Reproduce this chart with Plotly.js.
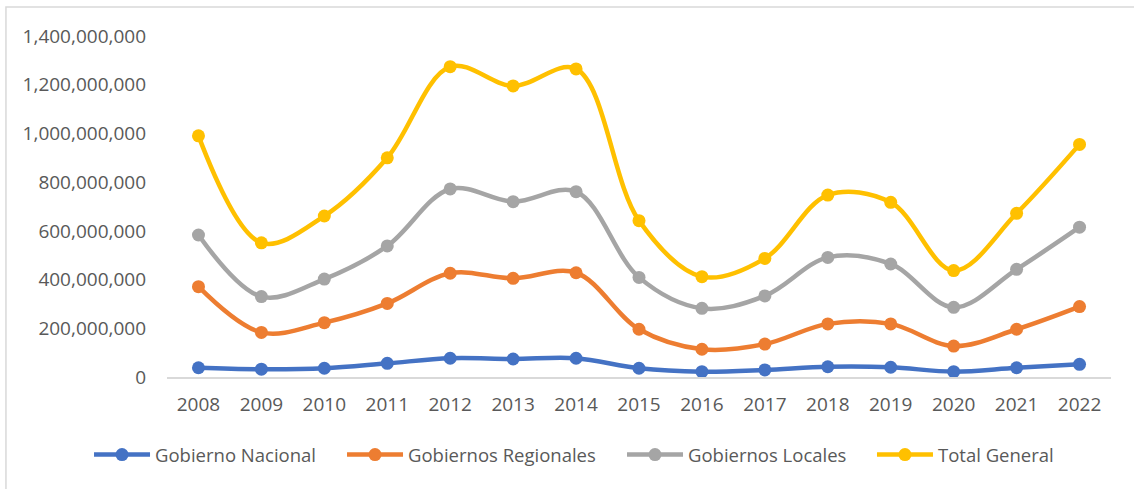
<!DOCTYPE html>
<html>
<head>
<meta charset="utf-8">
<script src="https://cdn.plot.ly/plotly-3.0.1.min.js"></script>
<style>
  html, body { margin: 0; padding: 0; background: #ffffff; }
  #chart { width: 1134px; height: 489px; }
</style>
</head>
<body>
<div id="chart"></div>
<script>
const years = ["2008","2009","2010","2011","2012","2013","2014","2015","2016","2017","2018","2019","2020","2021","2022"];
const gobiernoNacional    = [38e6, 32e6, 36e6, 56e6, 77e6, 74e6, 77e6, 36e6, 22e6, 29e6, 42e6, 40e6, 22e6, 38e6, 52e6];
const gobiernosRegionales = [371e6, 183e6, 223e6, 302e6, 426e6, 405e6, 428e6, 196e6, 114e6, 135e6, 218e6, 218e6, 127e6, 196e6, 289e6];
const gobiernosLocales    = [583e6, 330e6, 402e6, 538e6, 772e6, 720e6, 761e6, 409e6, 282e6, 333e6, 491e6, 464e6, 286e6, 442e6, 615e6];
const totalGeneral        = [990e6, 551e6, 661e6, 900e6, 1274e6, 1195e6, 1265e6, 642e6, 412e6, 487e6, 747e6, 717e6, 437e6, 672e6, 955e6];

const seriesNames  = ["Gobierno Nacional", "Gobiernos Regionales", "Gobiernos Locales", "Total General"];
const seriesValues = [gobiernoNacional, gobiernosRegionales, gobiernosLocales, totalGeneral];
const seriesColors = ["#4472C4", "#ED7D31", "#A5A5A5", "#FFC000"];
const legendIds    = ["legend", "legend2", "legend3", "legend4"];
const legendX      = [-0.0826, 0.1854, 0.4820, 0.7468];

const FONT = "Open Sans, Liberation Sans, Arial, sans-serif";
const TEXT = "#595959";

const traces = seriesNames.map((name, i) => ({
  type: "scatter",
  mode: "lines+markers",
  name: name,
  legend: legendIds[i],
  x: years,
  y: seriesValues[i],
  line: { color: seriesColors[i], width: 4.5, shape: "spline", smoothing: 1 },
  marker: { color: seriesColors[i], size: 13 },
  hoverinfo: "x+y+name"
}));

function legendCfg(x) {
  return {
    orientation: "h",
    x: x, xanchor: "left",
    y: -0.229, yanchor: "middle",
    font: { family: FONT, size: 18.5, color: TEXT },
    itemwidth: 56,
    bgcolor: "rgba(0,0,0,0)",
    borderwidth: 0
  };
}

const layout = {
  width: 1134,
  height: 489,
  margin: { l: 167, r: 23, t: 36, b: 112, pad: 0 },
  paper_bgcolor: "#ffffff",
  plot_bgcolor: "#ffffff",
  font: { family: FONT, size: 19, color: TEXT },
  showlegend: true,
  legend: legendCfg(legendX[0]),
  legend2: legendCfg(legendX[1]),
  legend3: legendCfg(legendX[2]),
  legend4: legendCfg(legendX[3]),
  xaxis: {
    type: "category",
    range: [-0.5, 14.5],
    showgrid: false,
    zeroline: false,
    showline: true,
    linecolor: "#d9d9d9",
    linewidth: 1.5,
    ticks: "",
    ticklabelstandoff: 10,
    tickfont: { family: FONT, size: 19, color: TEXT },
    fixedrange: true
  },
  yaxis: {
    range: [0, 1400e6],
    dtick: 200e6,
    tick0: 0,
    tickformat: ",d",
    showgrid: false,
    zeroline: false,
    showline: false,
    ticks: "",
    ticklabelstandoff: 20,
    tickfont: { family: FONT, size: 19, color: TEXT },
    fixedrange: true
  },
  shapes: [{
    type: "rect",
    xref: "paper", yref: "paper",
    x0: -0.1706, x1: 1.05, y0: -0.4, y1: 1.085,
    line: { color: "#d9d9d9", width: 1.5 },
    fillcolor: "rgba(0,0,0,0)",
    layer: "below"
  }]
};

Plotly.newPlot("chart", traces, layout, { staticPlot: true, displayModeBar: false });
</script>
</body>
</html>
